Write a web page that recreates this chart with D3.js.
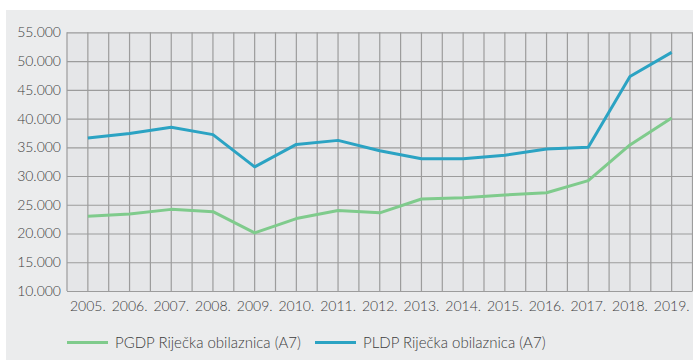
<!DOCTYPE html>
<html>
<head>
<meta charset="utf-8">
<script src="https://cdn.jsdelivr.net/npm/d3@7"></script>
<style>
  html, body { margin: 0; padding: 0; background: #ffffff; }
  svg { display: block; }
  text { font-family: Lato, "Open Sans", sans-serif; font-weight: 300; fill: #3d3d3d; }
</style>
</head>
<body>
<svg id="chart" width="693" height="360"></svg>
<script>
// Years shown on the x axis
const years = ["2005.", "2006.", "2007.", "2008.", "2009.", "2010.", "2011.", "2012.",
               "2013.", "2014.", "2015.", "2016.", "2017.", "2018.", "2019."];
// Annual average daily traffic, vehicles/day
const pgdp = [23000, 23400, 24200, 23800, 20100, 22600, 24000, 23600,
              26000, 26200, 26700, 27100, 29200, 35400, 40100];
const pldp = [36600, 37400, 38500, 37200, 31600, 35500, 36200, 34400,
              33000, 33000, 33600, 34700, 35000, 47300, 51500];
const yTicks = [10000, 15000, 20000, 25000, 30000, 35000, 40000, 45000, 50000, 55000];
const seriesNames = ["PGDP Riječka obilaznica (A7)", "PLDP Riječka obilaznica (A7)"];
const seriesColors = ["#7fcb8c", "#2ba3c3"];

const svg = d3.select("#chart");
const W = 693, H = 360;
const plotL = 67, plotR = 692.5, plotT = 32.3, plotB = 291;

// panel background
svg.append("rect").attr("x", 6).attr("y", 10).attr("width", W - 6).attr("height", H - 10)
  .attr("fill", "#ebeced");
svg.append("rect").attr("x", plotL).attr("y", plotT).attr("width", plotR - plotL).attr("height", plotB - plotT)
  .attr("fill", "#e5e6e8");

const x = d3.scaleBand().domain(years).range([plotL, plotR]).padding(0);
const y = d3.scaleLinear().domain([10000, 55000]).range([plotB, plotT]);

const fmt = v => d3.format(",")(v).replace(/,/g, ".");

// horizontal grid + y labels
const yAxis = d3.axisLeft(y).tickValues(yTicks).tickFormat(fmt)
  .tickSize(-(plotR - plotL)).tickPadding(6);
const gy = svg.append("g").attr("transform", `translate(${plotL},0)`).call(yAxis);
gy.select(".domain").remove();
gy.selectAll("line").attr("stroke", "#9c9c9c").attr("stroke-width", 1.2);
gy.selectAll("text").style("font-size", "14px").attr("fill", "#3d3d3d");

// vertical grid: band edges and band centres
const vlines = [];
years.forEach(d => { vlines.push(x(d)); vlines.push(x(d) + x.bandwidth() / 2); });
vlines.push(plotR);
svg.append("g").selectAll("line").data(vlines).join("line")
  .attr("x1", d => d).attr("x2", d => d).attr("y1", plotT).attr("y2", plotB)
  .attr("stroke", "#9c9c9c").attr("stroke-width", 1.2);

// x axis labels
const xAxis = d3.axisBottom(x).tickSize(0).tickPadding(10);
const gx = svg.append("g").attr("transform", `translate(0,${plotB})`).call(xAxis);
gx.select(".domain").remove();
gx.selectAll("text").style("font-size", "14px").attr("fill", "#3d3d3d");

// lines
const line = d3.line().x((d, i) => x(years[i]) + x.bandwidth() / 2).y(d => y(d));
[pgdp, pldp].forEach((s, k) => {
  svg.append("path").datum(s).attr("d", line)
    .attr("fill", "none").attr("stroke", seriesColors[k]).attr("stroke-width", 3)
    .attr("stroke-linejoin", "round");
});

// legend
const legendX = [67, 315];
seriesNames.forEach((n, k) => {
  const g = svg.append("g").attr("transform", `translate(${legendX[k]},342.5)`);
  g.append("line").attr("x1", 0).attr("x2", 41).attr("y1", 0).attr("y2", 0)
    .attr("stroke", seriesColors[k]).attr("stroke-width", 3);
  g.append("text").attr("x", 48).attr("y", 5.5).style("font-size", "15px").text(n);
});
</script>
</body>
</html>
